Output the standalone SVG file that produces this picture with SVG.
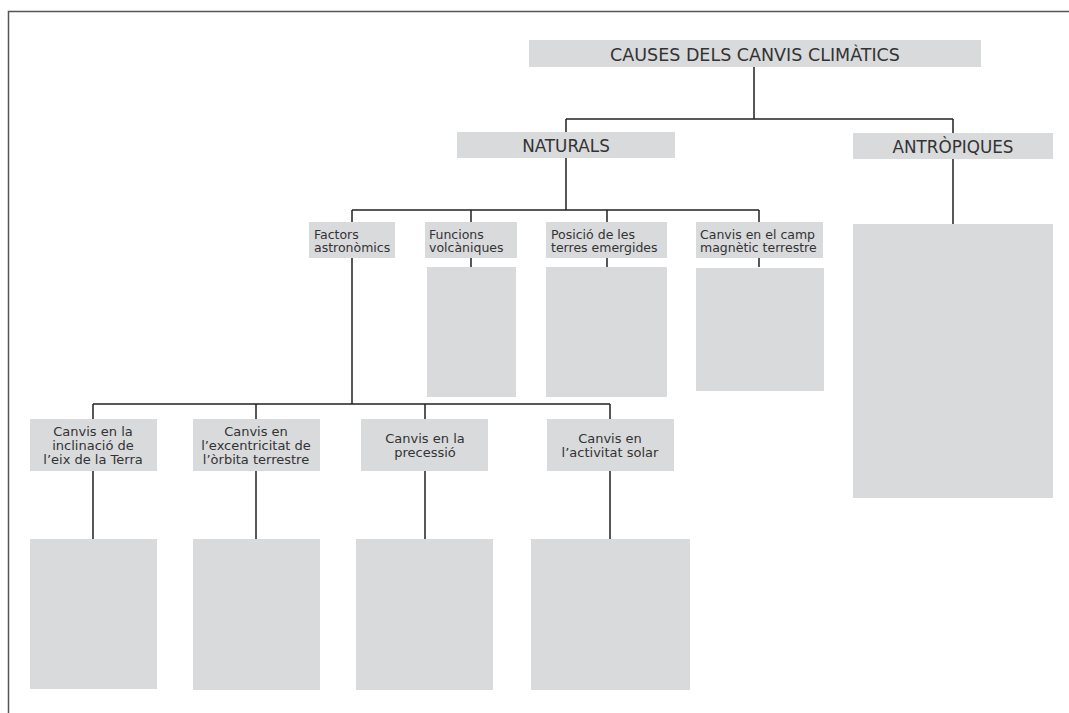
<svg xmlns="http://www.w3.org/2000/svg" width="1069" height="713" viewBox="0 0 1069 713">
<style>
.box{fill:#d9dadc;}
.ln{stroke:#222;stroke-width:1.5;fill:none;}
.frame{stroke:#555;stroke-width:1.5;fill:none;}
text{font-family:"DejaVu Sans","Liberation Sans",sans-serif;fill:#333;}
.big{font-size:17.5px;text-anchor:middle;}
.mid{font-size:16.8px;text-anchor:middle;}
.sm{font-size:12.5px;}
.c{font-size:13px;text-anchor:middle;}
</style>
<rect width="1069" height="713" fill="#fff"/>
<path class="frame" d="M8.5,713 V11.5 H1069"/>
<g id="connectors">
<path class="ln" d="M754,67 V119 M566,119 H953 M566,119 V210 M953,119 V224"/>
<path class="ln" d="M352,210 H759 M352,210 V404 M471,210 V267 M607,210 V267 M759,210 V267"/>
<path class="ln" d="M93,404 H610 M93,404 V539 M256,404 V539 M425,404 V539 M610,404 V539"/>
</g>
<g id="title"><rect class="box" x="529" y="40" width="452" height="27"/><text class="big" x="755" y="61">CAUSES DELS CANVIS CLIMÀTICS</text></g>
<g id="naturals"><rect class="box" x="457" y="132" width="218" height="26"/><text class="mid" x="566" y="152">NATURALS</text></g>
<g id="antropiques"><rect class="box" x="853" y="133" width="200" height="26"/><text class="mid" x="953" y="153">ANTRÒPIQUES</text></g>
<g id="antropiques-box"><rect class="box" x="853" y="224" width="200" height="274"/></g>
<g id="factors"><rect class="box" x="309" y="222" width="86" height="36"/><text class="sm" x="314" y="239">Factors</text><text class="sm" x="314" y="252">astronòmics</text></g>
<g id="funcions"><rect class="box" x="425" y="222" width="92" height="36"/><text class="sm" x="429" y="239">Funcions</text><text class="sm" x="429" y="252">volcàniques</text></g>
<g id="funcions-box"><rect class="box" x="427" y="267" width="89" height="130"/></g>
<g id="posicio"><rect class="box" x="546" y="222" width="121" height="36"/><text class="sm" x="551" y="239">Posició de les</text><text class="sm" x="551" y="252">terres emergides</text></g>
<g id="posicio-box"><rect class="box" x="546" y="267" width="121" height="130"/></g>
<g id="camp"><rect class="box" x="696" y="222" width="127" height="36"/><text class="sm" x="700" y="239">Canvis en el camp</text><text class="sm" x="700" y="252">magnètic terrestre</text></g>
<g id="camp-box"><rect class="box" x="696" y="268" width="128" height="123"/></g>
<g id="inclinacio"><rect class="box" x="30" y="419" width="127" height="52"/><text class="c" x="93" y="436">Canvis en la</text><text class="c" x="93" y="450">inclinació de</text><text class="c" x="93" y="464">l’eix de la Terra</text></g>
<g id="inclinacio-box"><rect class="box" x="30" y="539" width="127" height="150"/></g>
<g id="excentricitat"><rect class="box" x="193" y="419" width="127" height="52"/><text class="c" x="256" y="436">Canvis en</text><text class="c" x="256" y="450">l’excentricitat de</text><text class="c" x="256" y="464">l’òrbita terrestre</text></g>
<g id="excentricitat-box"><rect class="box" x="193" y="539" width="127" height="151"/></g>
<g id="precessio"><rect class="box" x="361" y="419" width="127" height="52"/><text class="c" x="425" y="443">Canvis en la</text><text class="c" x="425" y="457">precessió</text></g>
<g id="precessio-box"><rect class="box" x="356" y="539" width="137" height="151"/></g>
<g id="activitat"><rect class="box" x="547" y="419" width="127" height="52"/><text class="c" x="610" y="443">Canvis en</text><text class="c" x="610" y="457">l’activitat solar</text></g>
<g id="activitat-box"><rect class="box" x="531" y="539" width="159" height="151"/></g>
</svg>
